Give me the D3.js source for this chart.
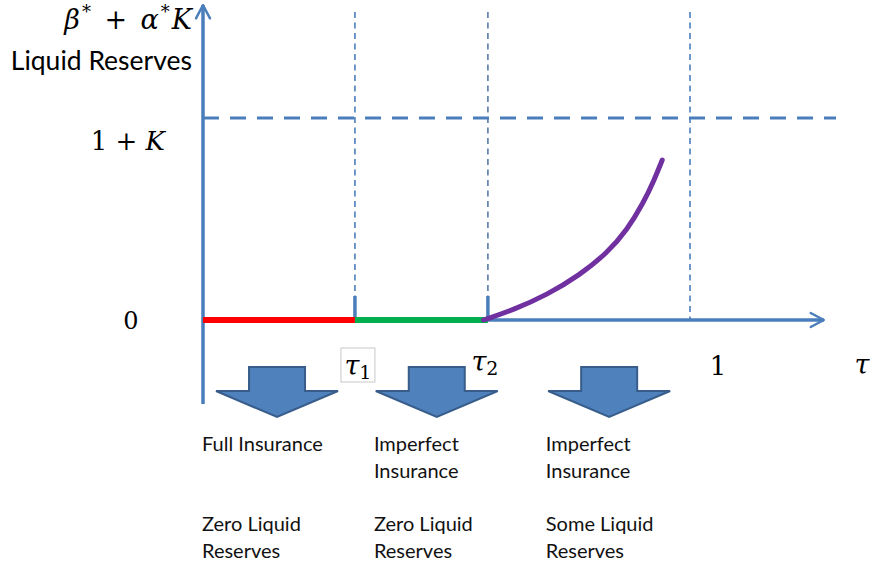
<!DOCTYPE html>
<html>
<head>
<meta charset="utf-8">
<script src="https://cdn.jsdelivr.net/npm/d3@7"></script>
<style>
  body { margin: 0; background: #fff; }
  svg { display: block; }
</style>
</head>
<body>
<svg id="chart"></svg>
<script>
// regime thresholds on the tau axis
var tauKeys = ["tau1", "tau2", "one"];
var tauValues = [0.312, 0.585, 1];
// liquid reserves curve for tau > tau2 (share of 1+K)
var curveTau = [0.576, 0.637, 0.706, 0.774, 0.830, 0.871, 0.904, 0.926, 0.943];
var curveVal = [0, 0.050, 0.124, 0.223, 0.332, 0.446, 0.579, 0.690, 0.792];
// level of the dashed ceiling (1+K)
var ceiling = 1;
// the three regimes
var regimeColors = ["#ff0000", "#00b050"];
var arrowTau = [0.152, 0.48, 0.834];
var textTau = [0, 0.353, 0.706];
var regimeLine1 = [["Full Insurance"], ["Imperfect", "Insurance"], ["Imperfect", "Insurance"]];
var regimeLine2 = [["Zero Liquid", "Reserves"], ["Zero Liquid", "Reserves"], ["Some Liquid", "Reserves"]];

var Chart = (function() {
    function Chart() {
        this.id = "#chart";
        this.width = 870;
        this.height = 565;
    }

    Chart.prototype.draw = function() {
        var width = this.width, height = this.height;
        var blue = "#4a7ebb";
        var mathFont = "'DejaVu Serif', 'Liberation Serif', serif";
        var textFont = "Lato, 'Open Sans', sans-serif";

        var svg = d3.select(this.id)
            .attr("width", width)
            .attr("height", height);

        var x = d3.scaleLinear().domain([0, 1]).range([203, 690]);
        var y = d3.scaleLinear().domain([0, 1]).range([320, 118]);

        var defs = svg.append("defs");
        defs.append("marker")
            .attr("id", "chev")
            .attr("viewBox", "0 0 10 10")
            .attr("refX", 8.6).attr("refY", 5)
            .attr("markerWidth", 5).attr("markerHeight", 5)
            .attr("markerUnits", "strokeWidth")
            .attr("orient", "auto")
            .append("path")
            .attr("d", "M1,1 L8.5,5 L1,9")
            .attr("fill", "none")
            .attr("stroke", blue)
            .attr("stroke-width", 1.4)
            .attr("stroke-linecap", "round")
            .attr("stroke-linejoin", "round");

        // thin dashed verticals
        tauValues.forEach(function(t, i) {
            svg.append("line")
                .attr("x1", x(t)).attr("x2", x(t))
                .attr("y1", 12).attr("y2", i < 2 ? 297 : y(0))
                .attr("stroke", i == 1 ? "#5a7aa8" : blue)
                .attr("stroke-width", 1.6)
                .attr("stroke-dasharray", "6,4.5");
        });

        // dashed ceiling 1+K
        svg.append("line")
            .attr("x1", x(0)).attr("x2", 836)
            .attr("y1", y(ceiling)).attr("y2", y(ceiling))
            .attr("stroke", blue)
            .attr("stroke-width", 3)
            .attr("stroke-dasharray", "16,11");

        // axes
        svg.append("line")
            .attr("x1", x(0)).attr("x2", 824)
            .attr("y1", y(0)).attr("y2", y(0))
            .attr("stroke", blue).attr("stroke-width", 3.5)
            .attr("marker-end", "url(#chev)");
        svg.append("line")
            .attr("x1", x(0)).attr("x2", x(0))
            .attr("y1", 404).attr("y2", 5)
            .attr("stroke", blue).attr("stroke-width", 3.5)
            .attr("marker-end", "url(#chev)");

        // ticks at tau1 and tau2
        tauValues.slice(0, 2).forEach(function(t) {
            svg.append("line")
                .attr("x1", x(t)).attr("x2", x(t))
                .attr("y1", 296).attr("y2", y(0))
                .attr("stroke", blue).attr("stroke-width", 3.5);
        });

        // regime segments
        var bounds = [0].concat(tauValues);
        regimeColors.forEach(function(c, i) {
            svg.append("line")
                .attr("x1", x(bounds[i])).attr("x2", x(bounds[i + 1]))
                .attr("y1", y(0)).attr("y2", y(0))
                .attr("stroke", c).attr("stroke-width", 6);
        });

        // reserves curve
        var line = d3.line()
            .x(function(d, i) { return x(curveTau[i]); })
            .y(function(d) { return y(d); })
            .curve(d3.curveBasis);
        svg.append("path")
            .attr("d", line(curveVal))
            .attr("fill", "none")
            .attr("stroke", "#7030a0")
            .attr("stroke-width", 5)
            .attr("stroke-linecap", "round");

        // axis labels
        var top = svg.append("text")
            .attr("x", 192).attr("y", 29)
            .attr("text-anchor", "end")
            .attr("font-family", mathFont)
            .attr("font-size", 27);
        top.append("tspan").attr("font-style", "italic").text("β");
        top.append("tspan").attr("dx", 2).attr("dy", -11).attr("font-size", 18).text("*");
        top.append("tspan").attr("dy", 11).text("\u2002+\u2002");
        top.append("tspan").attr("font-style", "italic").text("α");
        top.append("tspan").attr("dx", 2).attr("dy", -11).attr("font-size", 18).text("*");
        top.append("tspan").attr("dx", 2).attr("dy", 11).attr("font-style", "italic").text("K");

        svg.append("text")
            .attr("x", 192).attr("y", 70)
            .attr("text-anchor", "end")
            .attr("font-family", textFont)
            .attr("font-size", 26.5)
            .text("Liquid Reserves");

        var oneK = svg.append("text")
            .attr("x", 165).attr("y", y(ceiling) + 32)
            .attr("text-anchor", "end")
            .attr("font-family", mathFont)
            .attr("font-size", 26);
        oneK.append("tspan").text("1 + ");
        oneK.append("tspan").attr("font-style", "italic").text("K");

        svg.append("text")
            .attr("x", 131).attr("y", y(0) + 9)
            .attr("text-anchor", "middle")
            .attr("font-family", mathFont)
            .attr("font-size", 24)
            .text("0");

        // tau labels
        svg.append("rect")
            .attr("x", x(tauValues[0]) - 14).attr("y", 348)
            .attr("width", 34).attr("height", 34)
            .attr("fill", "none").attr("stroke", "#c8c8c8").attr("stroke-width", 1);
        var labelX = [x(tauValues[0]) + 3, x(tauValues[1]) - 3, x(tauValues[2]) + 28];
        tauKeys.forEach(function(k, i) {
            var t = svg.append("text")
                .attr("x", labelX[i]).attr("y", i == 0 ? 375 : 371)
                .attr("text-anchor", "middle")
                .attr("font-family", mathFont)
                .attr("font-size", 27);
            if (k == "one") {
                t.attr("y", 375).attr("font-size", 26).text("1");
            } else {
                t.append("tspan").attr("font-style", "italic").text("τ");
                t.append("tspan").attr("dy", 4).attr("font-size", 19).text(i + 1);
            }
        });
        svg.append("text")
            .attr("x", 862).attr("y", 374)
            .attr("text-anchor", "middle")
            .attr("font-family", mathFont)
            .attr("font-style", "italic")
            .attr("font-size", 27)
            .text("τ");

        // block arrows
        arrowTau.forEach(function(t) {
            var cx = x(t);
            var pts = [[cx - 28, 367], [cx + 28, 367], [cx + 28, 391], [cx + 61, 391],
                       [cx, 417], [cx - 61, 391], [cx - 28, 391]];
            svg.append("polygon")
                .attr("points", pts.map(function(p) { return p.join(","); }).join(" "))
                .attr("fill", "#4f81bd")
                .attr("stroke", "#385d8a")
                .attr("stroke-width", 2);
        });

        // regime descriptions
        textTau.forEach(function(t, i) {
            var lines = [[regimeLine1[i], 451], [regimeLine2[i], 531]];
            lines.forEach(function(l) {
                l[0].forEach(function(s, j) {
                    svg.append("text")
                        .attr("x", x(t) - 1).attr("y", l[1] + j * 27)
                        .attr("font-family", textFont)
                        .attr("font-size", 20)
                        .attr("fill", "#111")
                        .text(s);
                });
            });
        });
    };

    return Chart;
})();

new Chart().draw();
</script>
</body>
</html>
